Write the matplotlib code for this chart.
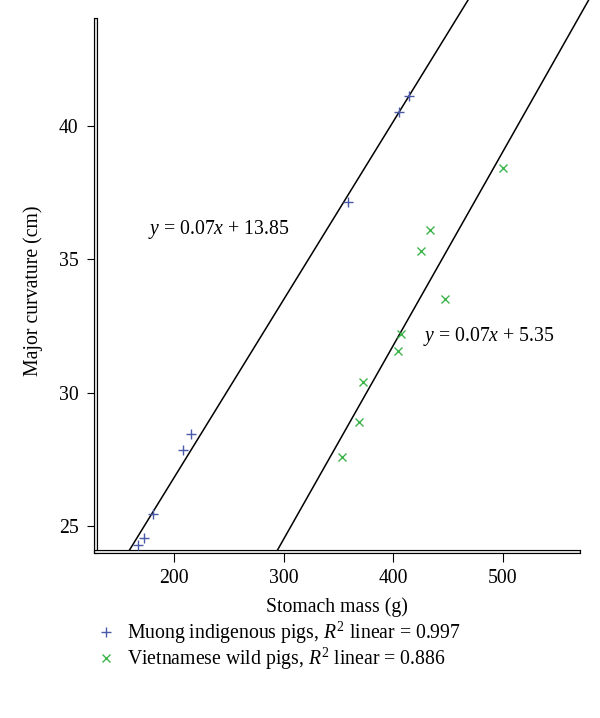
import numpy as np
import matplotlib
matplotlib.use("Agg")
import matplotlib.pyplot as plt
import matplotlib.patheffects as pe

plt.rcParams['font.family'] = ['Liberation Serif', 'DejaVu Serif']
plt.rcParams['mathtext.fontset'] = 'custom'
plt.rcParams['mathtext.rm'] = 'Liberation Serif'
plt.rcParams['mathtext.it'] = 'Liberation Serif:italic'

# stomach mass (g) / major curvature (cm)
muong_mass = [167, 172, 181, 208, 215, 359, 405, 414]
muong_curv = [24.3, 24.55, 25.45, 27.85, 28.45, 37.15, 40.5, 41.1]
wild_mass = [353, 369, 372, 404, 407, 447, 425, 434, 500]
wild_curv = [27.6, 28.9, 30.4, 31.55, 32.2, 33.5, 35.3, 36.1, 38.4]

muong_label = r'Muong indigenous pigs, $R^2$ linear = 0.997'
wild_label = r'Vietnamese wild pigs, $R^2$ linear = 0.886'
muong_eq = r'$y$ = 0.07$x$ + 13.85'
wild_eq = r'$y$ = 0.07$x$ + 5.35'

x_ticks = [200, 300, 400, 500]
y_ticks = [25, 30, 35, 40]

blue = '#4a5aa8'
green = '#3db54a'
fs = 14.2

fig = plt.figure(figsize=(6, 7.18), dpi=100)
ax = fig.add_axes([0.16, 0.2308, 0.84, 0.7692])
ax.set_xlim(128.5, 588.9)
ax.set_ylim(24.02, 44.71)

# regression lines (fitted to the points)
xx = np.linspace(128.5, 588.9, 50)
for xs, ys in [(muong_mass, muong_curv), (wild_mass, wild_curv)]:
    k, b = np.polyfit(xs, ys, 1)
    ax.plot(xx, k * xx + b, color='black', lw=1.1, zorder=2)

h1, = ax.plot(muong_mass, muong_curv, ls='none', marker='+', ms=7.5, mew=1.0,
              color=blue, zorder=3)
h2, = ax.plot(wild_mass, wild_curv, ls='none', marker='x', ms=6.3, mew=1.0,
              color=green, zorder=3)

ax.text(176.2, 36.1, muong_eq, fontsize=fs, ha='left', va='center')
ax.text(427.5, 32.1, wild_eq, fontsize=fs, ha='left', va='center')

# double-line axes
for side in ['top', 'right']:
    ax.spines[side].set_visible(False)
for side in ['left', 'bottom']:
    sp = ax.spines[side]
    sp.set_color('white')
    sp.set_linewidth(1.2)
    sp.set_path_effects([pe.Stroke(linewidth=3.0, foreground='black'), pe.Normal()])
ax.spines['left'].set_bounds(24.02, 43.96)
ax.spines['bottom'].set_bounds(128.5, 569.7)

ax.set_xticks(x_ticks)
ax.set_yticks(y_ticks)
ax.tick_params(axis='both', direction='out', color='black', width=0.8,
               labelsize=fs)
ax.tick_params(axis='x', length=7, pad=5)
ax.tick_params(axis='y', length=6.5, pad=6)

fig.text(337 / 600, 1 - 607 / 718, 'Stomach mass (g)', fontsize=fs,
         ha='center', va='center')
fig.text(33 / 600, 1 - 291 / 718, 'Major curvature (cm)', fontsize=fs,
         ha='center', va='center', rotation=90)

fig.legend([h1, h2], [muong_label, wild_label], loc='upper left',
           bbox_to_anchor=(96.6 / 600, 1 - 620 / 718), frameon=False,
           fontsize=fs, borderpad=0, borderaxespad=0, handlelength=0.95,
           handletextpad=0.6, labelspacing=0.0)

fig.savefig('out.png', dpi=100)
